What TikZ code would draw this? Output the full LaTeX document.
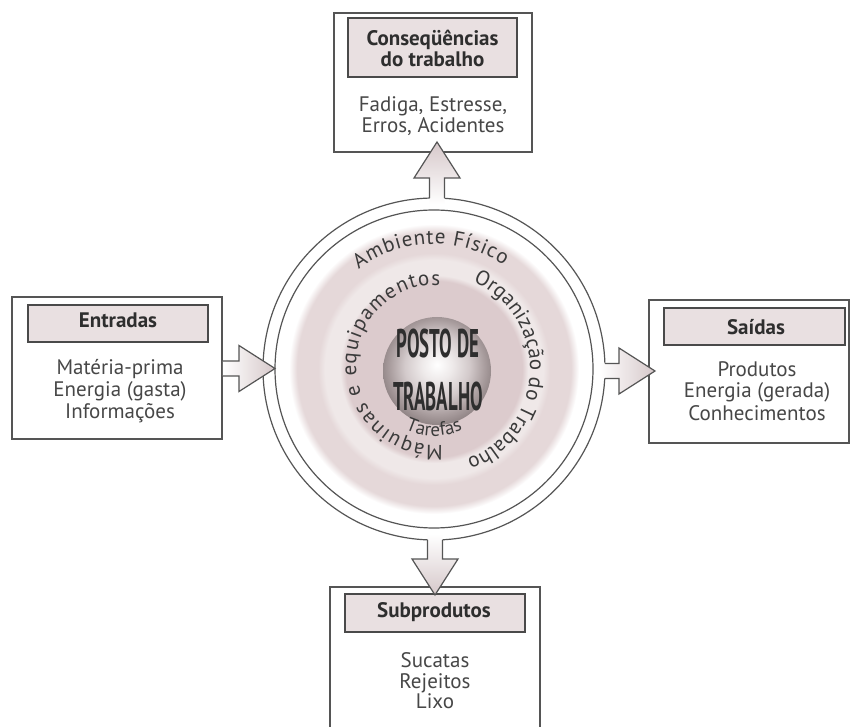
\documentclass[tikz,border=0pt]{standalone}
\usepackage{fontspec}
\setmainfont{PT Sans}
\usetikzlibrary{calc,decorations.text}

\definecolor{linegray}{HTML}{555555}
\definecolor{hdrline}{HTML}{4A4A4A}
\definecolor{hdrfill}{HTML}{E9E0E1}
\definecolor{txtgray}{HTML}{474747}
\definecolor{hdrtxt}{HTML}{2E2E2E}
\definecolor{pinkA}{HTML}{DCCBCD}
\definecolor{lightA}{HTML}{EFE8E8}
\definecolor{pinkB}{HTML}{E5D8D9}
\definecolor{arrowpink}{HTML}{D6C8CA}
\definecolor{sphA}{HTML}{EEEAEA}
\definecolor{sphB}{HTML}{D3CACB}
\definecolor{sphC}{HTML}{A99D9E}
\definecolor{sphD}{HTML}{8C8081}
\definecolor{curvetxt}{HTML}{3A3A3A}

\pgfdeclareradialshading{ringshade}{\pgfpoint{0bp}{0bp}}{color(0bp)=(pinkA); color(15.2bp)=(pinkA); color(16.2bp)=(lightA); color(18.8bp)=(lightA); color(20bp)=(pinkB); color(23.6bp)=(pinkB); color(25bp)=(white); color(50bp)=(white)}
\pgfdeclareradialshading{sphereshade}{\pgfpoint{0bp}{3bp}}{color(0bp)=(white); color(7bp)=(sphA); color(15bp)=(sphB); color(22bp)=(sphC); color(27bp)=(sphD); color(50bp)=(sphD)}

\newcommand\curvefont{\fontsize{21}{21}\selectfont}
\newcommand\smallcurvefont{\fontsize{19}{19}\selectfont}

\tikzset{
  outerbox/.style={draw=linegray, line width=1.6pt, fill=white, inner sep=0pt, rectangle},
  hdrbox/.style={draw=hdrline, line width=2.2pt, fill=hdrfill, inner sep=0pt, rectangle},
  hdrtext/.style={font=\bfseries\fontsize{21}{21}\selectfont, text=hdrtxt, anchor=base, inner sep=0pt},
  bodytext/.style={font=\fontsize{21}{21}\selectfont, text=txtgray, anchor=base, inner sep=0pt},
  ringline/.style={draw=linegray, line width=1.2pt},
  postotext/.style={font=\bfseries\fontsize{40}{40}\selectfont, text=hdrtxt, anchor=base, inner sep=0pt, xscale=0.47},
  arrowline/.style={draw=linegray, line width=1.2pt, line join=miter},
}

% #1 start coordinate, #2 tip coordinate, #3 back extension of the fill, #4 shading angle
\newcommand\blockarr[4]{%
  \coordinate (#1hb) at ($(#2)!36pt!(#1)$);
  \coordinate (#1bk) at ($(#1)!-#3!(#2)$);
  \shade[top color=arrowpink, bottom color=white, shading angle=#4]
    ($(#1bk)!7.5pt!90:(#2)$) -- ($(#1hb)!7.5pt!90:(#2)$) -- ($(#1hb)!23pt!90:(#2)$) -- (#2)
    -- ($(#1hb)!23pt!-90:(#2)$) -- ($(#1hb)!7.5pt!-90:(#2)$) -- ($(#1bk)!7.5pt!-90:(#2)$) -- cycle;
  \draw[arrowline]
    ($(#1)!7.5pt!90:(#2)$) -- ($(#1hb)!7.5pt!90:(#2)$) -- ($(#1hb)!23pt!90:(#2)$) -- (#2)
    -- ($(#1hb)!23pt!-90:(#2)$) -- ($(#1hb)!7.5pt!-90:(#2)$) -- ($(#1)!7.5pt!-90:(#2)$);
}

\begin{document}
\begin{tikzpicture}[x=1pt,y=1pt]
\useasboundingbox (0,0) rectangle (850,726);
\fill[white] (0,0) rectangle (850,726);

% ---- top box
\node[outerbox, minimum width=198pt, minimum height=139pt] (conbox) at (433,643.5) {};
\node[hdrbox, minimum width=169pt, minimum height=59pt] (conhdr) at (432.5,678.5) {};
\node[hdrtext] (conh1) at (432.5,680) {Conseqüências};
\node[hdrtext] (conh2) at (432.5,659) {do trabalho};
\node[bodytext] (conb1) at (433,614) {Fadiga, Estresse,};
\node[bodytext] (conb2) at (433,593) {Erros, Acidentes};

% ---- left box
\node[outerbox, minimum width=210pt, minimum height=142pt] (entbox) at (117,358) {};
\node[hdrbox, minimum width=180pt, minimum height=37pt] (enthdr) at (118,402.5) {};
\node[hdrtext] (enth) at (118,398) {Entradas};
\node[bodytext] (entb1) at (120,351) {Matéria-prima};
\node[bodytext] (entb2) at (120,330) {Energia (gasta)};
\node[bodytext] (entb3) at (120,308) {Informações};

% ---- right box
\node[outerbox, minimum width=200pt, minimum height=143pt] (saibox) at (749,354.5) {};
\node[hdrbox, minimum width=181pt, minimum height=37pt] (saihdr) at (754.5,399.5) {};
\node[hdrtext] (saih) at (756,391) {Saídas};
\node[bodytext] (saib1) at (757,349) {Produtos};
\node[bodytext] (saib2) at (757,328) {Energia (gerada)};
\node[bodytext] (saib3) at (757,306) {Conhecimentos};

% ---- bottom box
\node[outerbox, minimum width=210pt, minimum height=150pt] (subbox) at (435,64) {};
\node[hdrbox, minimum width=180pt, minimum height=38pt] (subhdr) at (435,113) {};
\node[hdrtext] (subh) at (434,109) {Subprodutos};
\node[bodytext] (subb1) at (435,59) {Sucatas};
\node[bodytext] (subb2) at (435,38) {Rejeitos};
\node[bodytext] (subb3) at (435,18) {Lixo};

% ---- central circle
\coordinate (C) at (434,357);
\node[circle, ringline, fill=white, minimum size=342pt, inner sep=0pt] (ringout) at (C) {};
\node[circle, ringline, minimum size=318pt, inner sep=0pt] (ringin) at (C) {};
\shade[shading=ringshade] (C) circle[radius=145pt];
\shade[shading=sphereshade] (437,355) circle[radius=54pt];

% curved texts
\path[decorate, decoration={text along path, text color=curvetxt, text align=fit to path,
  text={|\curvefont|Ambiente Físico}}]
  ($(C)+(127:125pt)$) arc[start angle=127, end angle=56, radius=125pt];
\path[decorate, decoration={text along path, text color=curvetxt, text align=fit to path,
  text={|\curvefont|Organização do Trabalho}}]
  ($(C)+(66:96pt)$) arc[start angle=66, end angle=-70, radius=96pt];
\coordinate (C2) at (436,361);
\path[decorate, decoration={text along path, text color=curvetxt, text align=fit to path,
  text={|\curvefont|Máquinas e equipamentos}}]
  ($(C2)+(-85:80pt)$) arc[start angle=-85, end angle=-273, radius=80pt];
\path[decorate, decoration={text along path, text color=curvetxt, text align=center,
  text={|\smallcurvefont|Tarefas}}]
  ($(C)+(-124:67pt)$) arc[start angle=-124, end angle=-56, radius=67pt];

\node[postotext] (posto1) at (438,368) {POSTO DE};
\node[postotext] (posto2) at (438,316) {TRABALHO};

% ---- arrows
\coordinate (upS) at (437,527.8);
\coordinate (upT) at (437,584);
\coordinate (dnS) at (435,186.1);
\coordinate (dnT) at (435,131);
\coordinate (lfS) at (entbox.east |- 0,357.5);
\coordinate (lfT) at (275,357.5);
\coordinate (rtS) at (605,355);
\coordinate (rtT) at (655,355);

\blockarr{upS}{upT}{6pt}{0}
\blockarr{dnS}{dnT}{6pt}{180}
\blockarr{lfS}{lfT}{0pt}{-90}
\blockarr{rtS}{rtT}{6pt}{-90}
\end{tikzpicture}
\end{document}
